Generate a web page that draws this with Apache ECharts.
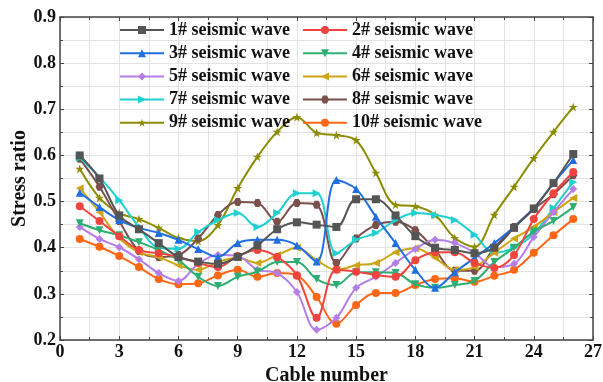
<!DOCTYPE html>
<html><head><meta charset="utf-8">
<script src="https://cdn.jsdelivr.net/npm/echarts@6/dist/echarts.min.js"></script>
<style>html,body{margin:0;padding:0;background:#fff}#c{width:603px;height:382px}</style>
</head><body><div id="c"></div>
<script>
const cables = [1,2,3,4,5,6,7,8,9,10,11,12,13,14,15,16,17,18,19,20,21,22,23,24,25,26];
const xTicks = [0,3,6,9,12,15,18,21,24,27];
const yTicks = [0.2,0.3,0.4,0.5,0.6,0.7,0.8,0.9];
const names = ['1# seismic wave','2# seismic wave','3# seismic wave','4# seismic wave','5# seismic wave','6# seismic wave','7# seismic wave','8# seismic wave','9# seismic wave','10# seismic wave'];
const s1 = [0.60,0.55,0.47,0.44,0.41,0.38,0.37,0.365,0.38,0.405,0.44,0.455,0.45,0.445,0.505,0.505,0.47,0.425,0.40,0.395,0.388,0.40,0.443,0.485,0.54,0.603];
const s2 = [0.49,0.458,0.425,0.395,0.388,0.38,0.367,0.358,0.382,0.395,0.38,0.34,0.248,0.352,0.348,0.341,0.337,0.373,0.39,0.39,0.367,0.356,0.384,0.462,0.518,0.564];
const s3 = [0.519,0.488,0.46,0.443,0.432,0.417,0.397,0.38,0.41,0.417,0.417,0.405,0.37,0.547,0.527,0.467,0.41,0.352,0.313,0.347,0.378,0.41,0.445,0.486,0.54,0.59];
const s4 = [0.453,0.438,0.427,0.412,0.395,0.373,0.337,0.317,0.337,0.348,0.369,0.369,0.332,0.319,0.347,0.347,0.345,0.321,0.313,0.319,0.328,0.369,0.40,0.435,0.458,0.488];
const s5 = [0.445,0.419,0.401,0.375,0.345,0.328,0.365,0.384,0.382,0.352,0.345,0.304,0.222,0.248,0.313,0.337,0.367,0.397,0.417,0.41,0.389,0.358,0.365,0.423,0.477,0.527];
const s6 = [0.529,0.477,0.421,0.39,0.38,0.362,0.352,0.369,0.378,0.367,0.384,0.40,0.373,0.352,0.362,0.367,0.39,0.399,0.378,0.352,0.358,0.389,0.42,0.445,0.477,0.508];
const s7 = [0.595,0.553,0.503,0.445,0.40,0.398,0.434,0.46,0.475,0.445,0.475,0.518,0.518,0.388,0.417,0.432,0.46,0.475,0.471,0.46,0.428,0.389,0.40,0.43,0.486,0.542];
const s8 = [0.593,0.532,0.458,0.393,0.38,0.384,0.42,0.471,0.499,0.497,0.456,0.497,0.493,0.367,0.42,0.449,0.456,0.438,0.395,0.35,0.35,0.40,0.445,0.484,0.516,0.557];
const s9 = [0.571,0.508,0.475,0.462,0.443,0.421,0.414,0.449,0.529,0.597,0.651,0.683,0.649,0.644,0.633,0.562,0.493,0.49,0.471,0.421,0.402,0.471,0.532,0.594,0.651,0.705];
const s10 = [0.419,0.402,0.382,0.358,0.332,0.321,0.323,0.34,0.352,0.337,0.345,0.34,0.293,0.235,0.276,0.302,0.302,0.319,0.332,0.334,0.326,0.339,0.352,0.389,0.427,0.462];
const allSeries = [s1,s2,s3,s4,s5,s6,s7,s8,s9,s10];
const colors = ['#555555','#f2443f','#1f6fe0','#2fae74','#b57de8','#cda514','#1fd0d0','#7b4f4b','#8c8c00','#ff6716'];
const symbols = [
  'rect','circle','triangle',
  'path://M0,0 L10,0 L5,9 Z',
  'diamond',
  'path://M0,5 L9,0 L9,10 Z',
  'path://M9,5 L0,0 L0,10 Z',
  'path://M2.5,0 L7.5,0 L10,4.33 L7.5,8.66 L2.5,8.66 L0,4.33 Z',
  'path://M5,0 L6.2,3.6 L10,3.6 L6.9,5.8 L8.1,9.5 L5,7.2 L1.9,9.5 L3.1,5.8 L0,3.6 L3.8,3.6 Z',
  'circle'
];
const symSizes = [8,8,8,8,8,8,8,8,9,8];
const font = "'Liberation Serif','Times New Roman',serif";
const chart = echarts.init(document.getElementById('c'), null, {renderer:'canvas'});
const series = allSeries.map((arr,i)=>({
  name: names[i], type:'line', smooth:0.35, data: cables.map((c,j)=>[c,arr[j]]),
  symbol: symbols[i], symbolSize: symSizes[i], showSymbol:true,
  lineStyle:{width:2,color:colors[i]}, itemStyle:{color:colors[i]}, z: 10-i
}));
const gridLineStyle = {color:'#e3e3e3', width:1};
const axisLine = {show:true, onZero:false, lineStyle:{color:'#444', width:1.5}};
const legendText = {fontFamily:font, fontWeight:'bold', fontSize:18, lineHeight:18, color:'#111'};
chart.setOption({
  animation:false,
  color: colors,
  grid:{left:60, right:10, top:17, bottom:42, containLabel:false, outerBoundsMode:'none'},
  legend:[
    {orient:'vertical', left:119, top:21, padding:0, itemWidth:44, itemHeight:10, itemGap:5.2, textStyle:legendText, data:[names[0],names[2],names[4],names[6],names[8]]},
    {orient:'vertical', left:302, top:21, padding:0, itemWidth:44, itemHeight:10, itemGap:5.2, textStyle:legendText, data:[names[1],names[3],names[5],names[7],names[9]]}
  ],
  xAxis:[
    {type:'value', min:xTicks[0], max:xTicks[xTicks.length-1], interval:3, position:'bottom',
     name:'Cable number', nameLocation:'middle', nameGap:21,
     nameTextStyle:{fontFamily:font, fontWeight:'bold', fontSize:20, color:'#111'},
     axisLine, axisTick:{show:true, inside:true, length:4, lineStyle:{color:'#444'}},
     minorTick:{show:true, splitNumber:2, length:3, lineStyle:{color:'#444'}},
     axisLabel:{fontFamily:font, fontWeight:'bold', fontSize:18, color:'#111', margin:3},
     splitLine:{show:true, lineStyle:gridLineStyle}, minorSplitLine:{show:true, lineStyle:gridLineStyle}},
    {type:'value', min:xTicks[0], max:xTicks[xTicks.length-1], interval:3, position:'top',
     axisLine, axisTick:{show:true, inside:true, length:4, lineStyle:{color:'#444'}},
     minorTick:{show:true, splitNumber:2, length:3, lineStyle:{color:'#444'}},
     axisLabel:{show:false}, splitLine:{show:false}}
  ],
  yAxis:[
    {type:'value', min:yTicks[0], max:yTicks[yTicks.length-1], interval:0.1, position:'left',
     name:'Stress ratio', nameLocation:'middle', nameGap:30, nameMoveOverlap:false,
     nameTextStyle:{fontFamily:font, fontWeight:'bold', fontSize:20, color:'#111'},
     axisLine, axisTick:{show:true, inside:true, length:4, lineStyle:{color:'#444'}},
     minorTick:{show:true, splitNumber:2, length:3, lineStyle:{color:'#444'}},
     axisLabel:{fontFamily:font, fontWeight:'bold', fontSize:18, color:'#111', margin:4, formatter:v=>v.toFixed(1)},
     splitLine:{show:true, lineStyle:gridLineStyle}, minorSplitLine:{show:true, lineStyle:gridLineStyle}},
    {type:'value', min:yTicks[0], max:yTicks[yTicks.length-1], interval:0.1, position:'right',
     axisLine, axisTick:{show:true, inside:true, length:4, lineStyle:{color:'#444'}},
     minorTick:{show:true, splitNumber:2, length:3, lineStyle:{color:'#444'}},
     axisLabel:{show:false}, splitLine:{show:false}}
  ],
  series
});
</script></body></html>
